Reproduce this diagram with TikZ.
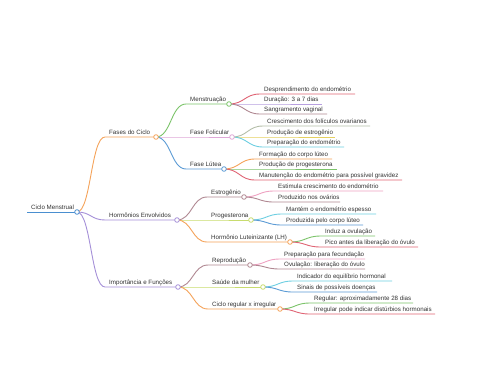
\documentclass[tikz,border=0pt]{standalone}
\usepackage{fontspec}
\setmainfont{Liberation Sans}
\usetikzlibrary{calc}
\pgfdeclarelayer{bg}
\pgfdeclarelayer{edges}
\pgfsetlayers{bg,edges,main}
\definecolor{cOrange}{HTML}{F5A35A}
\definecolor{cGreen}{HTML}{7CC46A}
\definecolor{cViolet}{HTML}{E0A8D8}
\definecolor{cBlue}{HTML}{5B9BD5}
\definecolor{cPurple}{HTML}{A590D8}
\definecolor{cRed}{HTML}{E06474}
\definecolor{cLav}{HTML}{B8A0E0}
\definecolor{cMauve}{HTML}{B08892}
\definecolor{cGreyGreen}{HTML}{B4BEA8}
\definecolor{cYellow}{HTML}{E6D060}
\definecolor{cCyan}{HTML}{6ECFE2}
\definecolor{cYG}{HTML}{C8DC6E}
\definecolor{cPink}{HTML}{EFA2C2}
\definecolor{cRoot}{HTML}{4A8FD0}
\definecolor{cText}{HTML}{333333}
\tikzset{
  lbl/.style={anchor=base west, inner sep=0pt, text=cText, font=\fontsize{6.2}{7}\selectfont},
  dot/.style={circle, draw=#1, fill=white, line width=0.8pt, minimum size=4.6pt, inner sep=0pt},
  link/.style={draw=#1, line width=0.9pt},
}
% #1 name, #2 parent, #3 start x, #4 y, #5 end x, #6 colour, #7 text
\newcommand\mmbranch[7]{%
  \coordinate (#1s) at (#3,#4);
  \node[dot=#6] (#1) at (#5,#4) {};
  \node[lbl] (#1t) at (#3+4,#4-2.7) {#7};
  \begin{pgfonlayer}{edges}
  \draw[link=#6] let \p1=(#2.center), \p2=(#1s) in
    (\p1) .. controls ({(\x1+\x2)/2},\y1) and ({(\x1+\x2)/2},\y2) .. (\p2) -- (#1.center);
  \end{pgfonlayer}
}
\newcommand\mmleaf[7]{%
  \coordinate (#1s) at (#3,#4);
  \coordinate (#1e) at (#5,#4);
  \node[lbl] (#1t) at (#3+4,#4-2.7) {#7};
  \begin{pgfonlayer}{edges}
  \draw[link=#6] let \p1=(#2.center), \p2=(#1s) in
    (\p1) .. controls ({(\x1+\x2)/2},\y1) and ({(\x1+\x2)/2},\y2) .. (\p2) -- (#1e);
  \end{pgfonlayer}
}
\begin{document}
\begin{tikzpicture}[x=1pt,y=-1pt]
\begin{pgfonlayer}{bg}
\fill[white] (0,0) rectangle (480,384);
\end{pgfonlayer}
\useasboundingbox (0,0) rectangle (480,384);
% root
\coordinate (roots) at (27,212);
\node[dot=cRoot] (root) at (77,212) {};
\node[lbl] (roott) at (31,209.3) {Ciclo Menstrual};
\begin{pgfonlayer}{edges}
\draw[link=cRoot] (roots) -- (root.center);
\end{pgfonlayer}
% level 1
\mmbranch{fa}{root}{105}{137}{156}{cOrange}{Fases do Ciclo}
\mmbranch{ho}{root}{105}{220}{177}{cPurple}{Hormônios Envolvidos}
\mmbranch{im}{root}{105}{287}{178}{cPurple}{Importância e Funções}
% Fases
\mmbranch{me}{fa}{186}{104}{229}{cGreen}{Menstruação}
\mmbranch{fo}{fa}{186}{137}{232}{cViolet}{Fase Folicular}
\mmbranch{lu}{fa}{186}{169}{224}{cBlue}{Fase Lútea}
\mmleaf{me1}{me}{260}{94}{355}{cRed}{Desprendimento do endométrio}
\mmleaf{me2}{me}{260}{104}{322}{cLav}{Duração: 3 a 7 dias}
\mmleaf{me3}{me}{260}{114}{327}{cMauve}{Sangramento vaginal}
\mmleaf{fo1}{fo}{263}{126}{370}{cGreyGreen}{Crescimento dos folículos ovarianos}
\mmleaf{fo2}{fo}{263}{137}{335}{cYellow}{Produção de estrogênio}
\mmleaf{fo3}{fo}{263}{147}{344}{cCyan}{Preparação do endométrio}
\mmleaf{lu1}{lu}{255}{159}{332}{cOrange}{Formação do corpo lúteo}
\mmleaf{lu2}{lu}{255}{169}{337}{cGreen}{Produção de progesterona}
\mmleaf{lu3}{lu}{255}{180}{402}{cRed}{Manutenção do endométrio para possível gravidez}
% Hormonios
\mmbranch{es}{ho}{207}{197}{244}{cMauve}{Estrogênio}
\mmbranch{pr}{ho}{207}{220}{251}{cYG}{Progesterona}
\mmbranch{lh}{ho}{207}{242}{290}{cOrange}{Hormônio Luteinizante (LH)}
\mmleaf{es1}{es}{274}{191}{383}{cPink}{Estimula crescimento do endométrio}
\mmleaf{es2}{es}{274}{202}{340}{cMauve}{Produzido nos ovários}
\mmleaf{pr1}{pr}{282}{214}{376}{cCyan}{Mantém o endométrio espesso}
\mmleaf{pr2}{pr}{282}{225}{363}{cBlue}{Produzida pelo corpo lúteo}
\mmleaf{lh1}{lh}{321}{236}{375}{cGreen}{Induz a ovulação}
\mmleaf{lh2}{lh}{321}{247}{418}{cRed}{Pico antes da liberação do óvulo}
% Importancia
\mmbranch{re}{im}{208}{265}{250}{cMauve}{Reprodução}
\mmbranch{sa}{im}{208}{287}{263}{cYG}{Saúde da mulher}
\mmbranch{ci}{im}{208}{309}{280}{cOrange}{Ciclo regular x irregular}
\mmleaf{re1}{re}{280}{259}{365}{cPink}{Preparação para fecundação}
\mmleaf{re2}{re}{280}{269}{365}{cMauve}{Ovulação: liberação do óvulo}
\mmleaf{sa1}{sa}{293}{281}{392}{cCyan}{Indicador do equilíbrio hormonal}
\mmleaf{sa2}{sa}{293}{292}{377}{cBlue}{Sinais de possíveis doenças}
\mmleaf{ci1}{ci}{310}{303}{413}{cGreen}{Regular: aproximadamente 28 dias}
\mmleaf{ci2}{ci}{310}{314}{435}{cRed}{Irregular pode indicar distúrbios hormonais}
\end{tikzpicture}
\end{document}
